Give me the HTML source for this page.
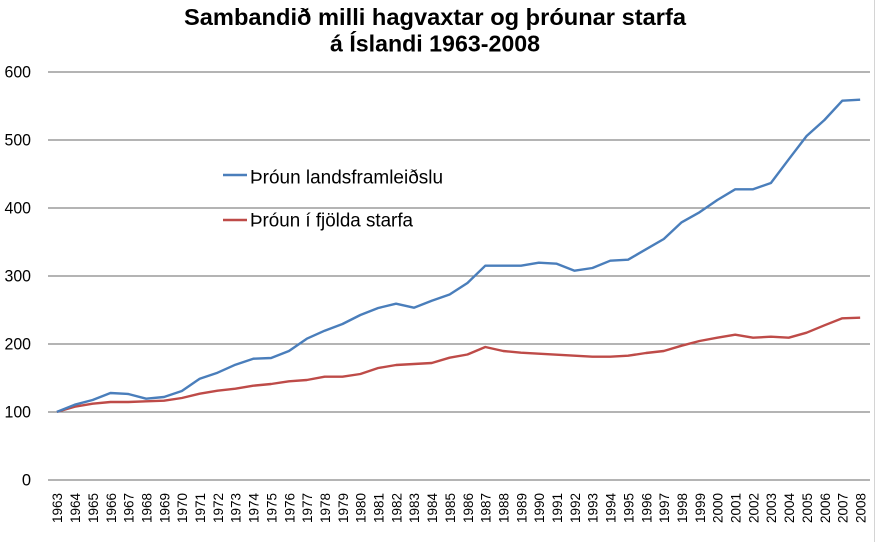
<!DOCTYPE html>
<html><head><meta charset="utf-8"><style>
html,body{margin:0;padding:0;background:#fff;}
svg{display:block;}
text{font-family:"Liberation Sans",Arial,sans-serif;}
</style></head><body>
<svg width="876" height="542" viewBox="0 0 876 542" xmlns="http://www.w3.org/2000/svg">
<rect width="876" height="542" fill="#fff"/>
<line x1="874.5" y1="0" x2="874.5" y2="542" stroke="#d4d4d4" stroke-width="1"/>
<!-- title -->
<text x="435" y="25" font-size="23.5" font-weight="bold" text-anchor="middle" textLength="502" lengthAdjust="spacingAndGlyphs" fill="#000">Sambandið milli hagvaxtar og þróunar starfa</text>
<text x="435" y="51.7" font-size="23.5" font-weight="bold" text-anchor="middle" textLength="210" lengthAdjust="spacingAndGlyphs" fill="#000">á Íslandi 1963-2008</text>
<!-- gridlines -->
<g stroke="#868686" stroke-width="1.3">
<line x1="48" y1="72" x2="870" y2="72"/>
<line x1="48" y1="140" x2="870" y2="140"/>
<line x1="48" y1="208" x2="870" y2="208"/>
<line x1="48" y1="276" x2="870" y2="276"/>
<line x1="48" y1="344" x2="870" y2="344"/>
<line x1="48" y1="412" x2="870" y2="412"/>
<line x1="48" y1="480" x2="870" y2="480"/>
</g>
<!-- y labels -->
<g font-size="16.5" text-anchor="end" fill="#000">
<text x="31" y="77.5" textLength="26.5" lengthAdjust="spacingAndGlyphs">600</text>
<text x="31" y="145.5" textLength="26.5" lengthAdjust="spacingAndGlyphs">500</text>
<text x="31" y="213.5" textLength="26.5" lengthAdjust="spacingAndGlyphs">400</text>
<text x="31" y="281.5" textLength="26.5" lengthAdjust="spacingAndGlyphs">300</text>
<text x="31" y="349.5" textLength="26.5" lengthAdjust="spacingAndGlyphs">200</text>
<text x="31" y="417.5" textLength="26.5" lengthAdjust="spacingAndGlyphs">100</text>
<text x="31" y="485.5">0</text>
</g>
<!-- x labels -->
<g font-size="13.5" text-anchor="end" fill="#000">
<text transform="translate(62.2,493) rotate(-90)" textLength="30" lengthAdjust="spacingAndGlyphs">1963</text>
<text transform="translate(80.05,493) rotate(-90)" textLength="30" lengthAdjust="spacingAndGlyphs">1964</text>
<text transform="translate(97.9,493) rotate(-90)" textLength="30" lengthAdjust="spacingAndGlyphs">1965</text>
<text transform="translate(115.75,493) rotate(-90)" textLength="30" lengthAdjust="spacingAndGlyphs">1966</text>
<text transform="translate(133.6,493) rotate(-90)" textLength="30" lengthAdjust="spacingAndGlyphs">1967</text>
<text transform="translate(151.45,493) rotate(-90)" textLength="30" lengthAdjust="spacingAndGlyphs">1968</text>
<text transform="translate(169.3,493) rotate(-90)" textLength="30" lengthAdjust="spacingAndGlyphs">1969</text>
<text transform="translate(187.15,493) rotate(-90)" textLength="30" lengthAdjust="spacingAndGlyphs">1970</text>
<text transform="translate(205,493) rotate(-90)" textLength="30" lengthAdjust="spacingAndGlyphs">1971</text>
<text transform="translate(222.85,493) rotate(-90)" textLength="30" lengthAdjust="spacingAndGlyphs">1972</text>
<text transform="translate(240.7,493) rotate(-90)" textLength="30" lengthAdjust="spacingAndGlyphs">1973</text>
<text transform="translate(258.55,493) rotate(-90)" textLength="30" lengthAdjust="spacingAndGlyphs">1974</text>
<text transform="translate(276.4,493) rotate(-90)" textLength="30" lengthAdjust="spacingAndGlyphs">1975</text>
<text transform="translate(294.25,493) rotate(-90)" textLength="30" lengthAdjust="spacingAndGlyphs">1976</text>
<text transform="translate(312.1,493) rotate(-90)" textLength="30" lengthAdjust="spacingAndGlyphs">1977</text>
<text transform="translate(329.95,493) rotate(-90)" textLength="30" lengthAdjust="spacingAndGlyphs">1978</text>
<text transform="translate(347.8,493) rotate(-90)" textLength="30" lengthAdjust="spacingAndGlyphs">1979</text>
<text transform="translate(365.65,493) rotate(-90)" textLength="30" lengthAdjust="spacingAndGlyphs">1980</text>
<text transform="translate(383.5,493) rotate(-90)" textLength="30" lengthAdjust="spacingAndGlyphs">1981</text>
<text transform="translate(401.35,493) rotate(-90)" textLength="30" lengthAdjust="spacingAndGlyphs">1982</text>
<text transform="translate(419.2,493) rotate(-90)" textLength="30" lengthAdjust="spacingAndGlyphs">1983</text>
<text transform="translate(437.05,493) rotate(-90)" textLength="30" lengthAdjust="spacingAndGlyphs">1984</text>
<text transform="translate(454.9,493) rotate(-90)" textLength="30" lengthAdjust="spacingAndGlyphs">1985</text>
<text transform="translate(472.75,493) rotate(-90)" textLength="30" lengthAdjust="spacingAndGlyphs">1986</text>
<text transform="translate(490.6,493) rotate(-90)" textLength="30" lengthAdjust="spacingAndGlyphs">1987</text>
<text transform="translate(508.45,493) rotate(-90)" textLength="30" lengthAdjust="spacingAndGlyphs">1988</text>
<text transform="translate(526.3,493) rotate(-90)" textLength="30" lengthAdjust="spacingAndGlyphs">1989</text>
<text transform="translate(544.15,493) rotate(-90)" textLength="30" lengthAdjust="spacingAndGlyphs">1990</text>
<text transform="translate(562,493) rotate(-90)" textLength="30" lengthAdjust="spacingAndGlyphs">1991</text>
<text transform="translate(579.85,493) rotate(-90)" textLength="30" lengthAdjust="spacingAndGlyphs">1992</text>
<text transform="translate(597.7,493) rotate(-90)" textLength="30" lengthAdjust="spacingAndGlyphs">1993</text>
<text transform="translate(615.55,493) rotate(-90)" textLength="30" lengthAdjust="spacingAndGlyphs">1994</text>
<text transform="translate(633.4,493) rotate(-90)" textLength="30" lengthAdjust="spacingAndGlyphs">1995</text>
<text transform="translate(651.25,493) rotate(-90)" textLength="30" lengthAdjust="spacingAndGlyphs">1996</text>
<text transform="translate(669.1,493) rotate(-90)" textLength="30" lengthAdjust="spacingAndGlyphs">1997</text>
<text transform="translate(686.95,493) rotate(-90)" textLength="30" lengthAdjust="spacingAndGlyphs">1998</text>
<text transform="translate(704.8,493) rotate(-90)" textLength="30" lengthAdjust="spacingAndGlyphs">1999</text>
<text transform="translate(722.65,493) rotate(-90)" textLength="30" lengthAdjust="spacingAndGlyphs">2000</text>
<text transform="translate(740.5,493) rotate(-90)" textLength="30" lengthAdjust="spacingAndGlyphs">2001</text>
<text transform="translate(758.35,493) rotate(-90)" textLength="30" lengthAdjust="spacingAndGlyphs">2002</text>
<text transform="translate(776.2,493) rotate(-90)" textLength="30" lengthAdjust="spacingAndGlyphs">2003</text>
<text transform="translate(794.05,493) rotate(-90)" textLength="30" lengthAdjust="spacingAndGlyphs">2004</text>
<text transform="translate(811.9,493) rotate(-90)" textLength="30" lengthAdjust="spacingAndGlyphs">2005</text>
<text transform="translate(829.75,493) rotate(-90)" textLength="30" lengthAdjust="spacingAndGlyphs">2006</text>
<text transform="translate(847.6,493) rotate(-90)" textLength="30" lengthAdjust="spacingAndGlyphs">2007</text>
<text transform="translate(865.45,493) rotate(-90)" textLength="30" lengthAdjust="spacingAndGlyphs">2008</text>
</g>
<!-- series -->
<polyline fill="none" stroke="#BE4B48" stroke-width="2.4" stroke-linejoin="round" points="56.9,411.9 74.75,406.7 92.6,403.7 110.45,402 128.3,402 146.15,401.3 164,400.7 181.85,398 199.7,393.7 217.55,390.7 235.4,388.7 253.25,385.7 271.1,384 288.95,381.3 306.8,380 324.65,376.7 342.5,376.7 360.35,374 378.2,368 396.05,365 413.9,364 431.75,363 449.6,357.7 467.45,354.5 485.3,347 503.15,351 521,352.7 538.85,353.7 556.7,354.7 574.55,355.7 592.4,356.7 610.25,356.7 628.1,355.7 645.95,353 663.8,351 681.65,345.7 699.5,341 717.35,337.7 735.2,334.7 753.05,337.7 770.9,336.7 788.75,337.7 806.6,332.7 824.45,325.3 842.3,318.3 860.15,317.7"/>
<polyline fill="none" stroke="#4A7EBB" stroke-width="2.4" stroke-linejoin="round" points="56.9,411.9 74.75,404.7 92.6,400 110.45,393 128.3,394 146.15,398.7 164,397 181.85,391 199.7,378.7 217.55,372.7 235.4,364.7 253.25,358.7 271.1,358 288.95,351 306.8,338.7 324.65,330.7 342.5,324 360.35,315 378.2,308 396.05,303.7 413.9,307.7 431.75,300.7 449.6,294.5 467.45,283 485.3,265.7 503.15,265.7 521,265.7 538.85,262.7 556.7,263.7 574.55,270.7 592.4,268 610.25,260.7 628.1,259.7 645.95,249.3 663.8,239 681.65,222.3 699.5,212.3 717.35,200 735.2,189.3 753.05,189.3 770.9,183 788.75,159.3 806.6,136 824.45,120 842.3,100.7 860.15,99.7"/>
<!-- legend -->
<line x1="223" y1="175" x2="247" y2="175" stroke="#4A7EBB" stroke-width="2.5"/>
<text x="250" y="183.3" font-size="19" textLength="193" lengthAdjust="spacingAndGlyphs" fill="#000">Þróun landsframleiðslu</text>
<line x1="223" y1="220" x2="247" y2="220" stroke="#BE4B48" stroke-width="2.5"/>
<text x="250" y="226.5" font-size="19" textLength="163" lengthAdjust="spacingAndGlyphs" fill="#000">Þróun í fjölda starfa</text>
</svg>
</body></html>
